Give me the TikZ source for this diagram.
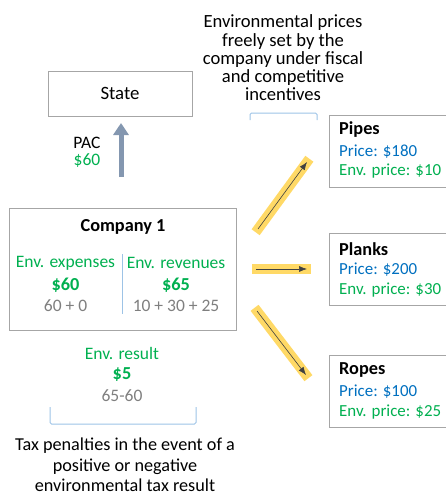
\documentclass[tikz,border=0pt]{standalone}
\usepackage{fontspec}
\setmainfont{Carlito}
\usetikzlibrary{arrows.meta}
\definecolor{envgreen}{HTML}{00B050}
\definecolor{priceblue}{HTML}{0070C0}
\definecolor{txtgray}{HTML}{7F7F7F}
\definecolor{boxgray}{HTML}{A6A6A6}
\definecolor{brblue}{HTML}{9DC3E6}
\definecolor{band}{HTML}{FFD966}
\definecolor{pacarrow}{HTML}{8497B0}
\begin{document}
\begin{tikzpicture}[x=1pt,y=-1pt,
every node/.style={font=\fontsize{17.5}{18.2}\selectfont,inner sep=0pt},
box/.style={draw=boxgray,line width=1pt,fill=white},
env/.style={text=envgreen},
price/.style={text=priceblue,anchor=west,font=\fontsize{16.9}{18.2}\selectfont},
calc/.style={text=txtgray},
title/.style={font=\fontsize{18.3}{18.2}\selectfont\bfseries},
brace/.style={draw=brblue,line width=1pt,rounded corners=1.5pt},
flow/.style={draw=band,line width=10pt,rounded corners=2pt,shorten <=-4pt,shorten >=-4pt},
flowtip/.style={draw=black!75,line width=.6pt,-{Latex[length=8pt,width=6pt]}}]
\useasboundingbox (0,0) rectangle (446,495);
% state and tax
\node[box,minimum width=144,minimum height=45,font=\fontsize{18.8}{20}\selectfont] (state) at (120,93.5) {State};
\node (pac) at (87,143) {PAC};
\node[env] (pacval) at (87,161) {\$60};
\coordinate (pacfrom) at (121,177);
\coordinate (pacto) at (121,123);
\draw[pacarrow,line width=5pt,-{Triangle[length=12pt,width=15pt]}] (pacfrom)--(pacto);
\node[align=center,font=\fontsize{18.6}{18.2}\selectfont] (note) at (283,58) {Environmental prices\\freely set by the\\company under fiscal\\and competitive\\incentives};
\draw[brace] (250,120)--(250,113)--(317,113)--(317,120);
% company
\node[box,minimum width=227,minimum height=122] (comp) at (122.5,269) {};
\node[title] (compname) at (123,227) {Company 1};
\coordinate (divtop) at (122,254);
\coordinate (divbot) at (122,314);
\draw[brblue,line width=1pt] (divtop)--(divbot);
\node[env] (exp) at (65.5,263) {Env. expenses};
\node[env,title] (expval) at (65.5,285) {\$60};
\node[calc] (expsum) at (65.5,306) {60 + 0};
\node[env] (rev) at (176,263) {Env. revenues};
\node[env,title] (revval) at (176,285) {\$65};
\node[calc] (revsum) at (176,306) {10 + 30 + 25};
\node[env] (res) at (122,353) {Env. result};
\node[env,title] (resval) at (122,375) {\$5};
\node[calc] (ressum) at (122,396) {65-60};
\draw[brace] (50,407)--(50,424)--(196,424)--(196,407);
\node[align=center,font=\fontsize{18.2}{20.3}\selectfont] (penalty) at (125,465) {Tax penalties in the event of a\\positive or negative\\environmental tax result};
% products
\node[box,minimum width=122,minimum height=72] (pipes) at (390,151) {};
\node[title,anchor=west] (pipesname) at (339,130) {Pipes};
\node[price] (pipesprice) at (339,152) {Price: \$180};
\node[price,env] (pipesenv) at (339,171) {Env. price: \$10};
\node[box,minimum width=122,minimum height=72] (planks) at (390,269.5) {};
\node[title,anchor=west] (planksname) at (339,249) {Planks};
\node[price] (planksprice) at (339,270) {Price: \$200};
\node[price,env] (planksenv) at (339,290) {Env. price: \$30};
\node[box,minimum width=122,minimum height=72] (ropes) at (390,391) {};
\node[title,anchor=west] (ropesname) at (339,370) {Ropes};
\node[price] (ropesprice) at (339,392) {Price: \$100};
\node[price,env] (ropesenv) at (339,412) {Env. price: \$25};
% flows
\coordinate (upa) at (258,229);
\coordinate (upb) at (307,162);
\coordinate (mida) at (256,269);
\coordinate (midb) at (307,269);
\coordinate (lowa) at (257,311);
\coordinate (lowb) at (306,375);
\draw[flow] (upa)--(upb);
\draw[flow] (mida)--(midb);
\draw[flow] (lowa)--(lowb);
\draw[flowtip] (upa)--(upb);
\draw[flowtip] (mida)--(midb);
\draw[flowtip] (lowa)--(lowb);
\end{tikzpicture}
\end{document}
